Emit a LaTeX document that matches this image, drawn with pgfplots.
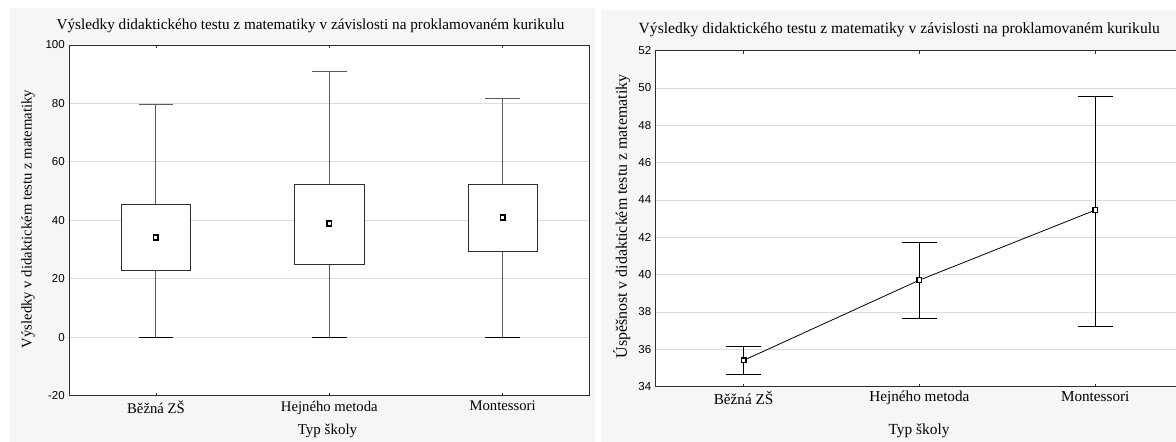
\documentclass[border=0pt]{standalone}
\usepackage{pgfplots}
\pgfplotsset{compat=1.18}
\usepackage{fontspec}
\setmainfont{Liberation Serif}
\newfontfamily\numfont{Liberation Sans}
\definecolor{panel}{HTML}{F6F6F6}
\definecolor{gridc}{HTML}{DDDDDD}
\definecolor{axc}{HTML}{2E2E2E}
\definecolor{whisk}{HTML}{5A5A5A}
\begin{document}
\begin{tikzpicture}
\fill[panel] (10pt,0pt) rectangle (595pt,434pt);
\fill[panel] (601pt,0pt) rectangle (1176pt,432pt);
\begin{axis}[
  at={(69.3pt,46.3pt)}, anchor=south west,
  scale only axis, width=520pt, height=350.7pt,
  xmin=-0.5, xmax=2.5, ymin=-20, ymax=100,
  xtick={0,1,2}, xticklabels={Běžná ZŠ,Hejného metoda,Montessori},
  ytick={-20,0,20,40,60,80,100},
  ymajorgrids, grid style={gridc, line width=0.9pt},
  axis background/.style={fill=white},
  axis line style={axc, line width=0.9pt},
  tick align=inside, major tick length=3pt,
  xtick style={axc, line width=0.7pt}, ytick style={draw=none},
  /pgf/number format/assume math mode=true,
  yticklabel style={font=\numfont\fontsize{11.5}{11.5}\selectfont, xshift=-1pt},
  xticklabel style={font=\fontsize{14.7}{14.7}\selectfont, yshift=-2pt},
  unbounded coords=jump,
]
% whiskers (vertical lines)
\addplot[whisk, line width=1pt] coordinates {
  (0,0) (0,22.7) (nan,nan) (0,45.5) (0,79.5) (nan,nan)
  (1,0) (1,24.9) (nan,nan) (1,52.3) (1,91.0) (nan,nan)
  (2,0) (2,29.4) (nan,nan) (2,52.3) (2,81.8)};
% whisker caps
\addplot[whisk, line width=1.1pt] coordinates {
  (-0.1,79.5) (0.1,79.5) (nan,nan) (0.9,91.0) (1.1,91.0) (nan,nan) (1.9,81.8) (2.1,81.8)};
\addplot[black, line width=1.1pt] coordinates {
  (-0.1,0) (0.1,0) (nan,nan) (0.9,0) (1.1,0) (nan,nan) (1.9,0) (2.1,0)};
% boxes
\addplot[axc, line width=0.9pt, fill=white] coordinates {(-0.2,22.7) (0.2,22.7) (0.2,45.5) (-0.2,45.5) (-0.2,22.7)} -- cycle;
\addplot[axc, line width=0.9pt, fill=white] coordinates {(0.8,24.9) (1.2,24.9) (1.2,52.3) (0.8,52.3) (0.8,24.9)} -- cycle;
\addplot[axc, line width=0.9pt, fill=white] coordinates {(1.8,29.4) (2.2,29.4) (2.2,52.3) (1.8,52.3) (1.8,29.4)} -- cycle;
% means
\addplot[only marks, mark=square*, mark size=2.3pt, mark options={fill=white, draw=black, line width=1.6pt}]
  coordinates {(0,34.1) (1,38.9) (2,41.0)};
\end{axis}
\begin{axis}[
  at={(655.7pt,55.3pt)}, anchor=south west,
  scale only axis, width=527.4pt, height=336pt,
  xmin=-0.5, xmax=2.5, ymin=34, ymax=52,
  xtick={0,1,2}, xticklabels={Běžná ZŠ,Hejného metoda,Montessori},
  ytick={34,36,38,40,42,44,46,48,50,52},
  ymajorgrids, grid style={gridc, line width=0.9pt},
  axis background/.style={fill=white},
  axis line style={axc, line width=0.9pt},
  tick align=inside, major tick length=3pt,
  xtick style={axc, line width=0.7pt}, ytick style={draw=none},
  /pgf/number format/assume math mode=true,
  yticklabel style={font=\numfont\fontsize{11.5}{11.5}\selectfont, xshift=-1pt},
  xticklabel style={font=\fontsize{15.2}{15.2}\selectfont, yshift=-1pt},
]
\addplot[black, line width=0.8pt, mark=square*, mark size=2.3pt,
  mark options={fill=white, draw=black, line width=1.3pt, solid},
  error bars/.cd, y dir=both, y explicit,
  error bar style={black, line width=0.9pt},
  error mark options={rotate=90, black, mark size=17.5pt, line width=1pt}]
  coordinates {(0,35.41) += (0,0.75) -= (0,0.73)
               (1,39.71) += (0,1.99) -= (0,2.08)
               (2,43.46) += (0,6.06) -= (0,6.21)};
\end{axis}
\node[anchor=base, font=\fontsize{15.2}{15.2}\selectfont] at (310.5pt,412pt) {Výsledky didaktického testu z matematiky v závislosti na proklamovaném kurikulu};
\node[anchor=base, font=\fontsize{15.6}{15.6}\selectfont] at (899.3pt,408pt) {Výsledky didaktického testu z matematiky v závislosti na proklamovaném kurikulu};
\node[rotate=90, font=\fontsize{14.7}{14.7}\selectfont] at (28pt,223pt) {Výsledky v didaktickém testu z matematiky};
\node[rotate=90, font=\fontsize{15.9}{15.9}\selectfont] at (621.7pt,225.5pt) {Úspěšnost v didaktickém testu z matematiky};
\node[anchor=base, font=\fontsize{15}{15}\selectfont] at (327.5pt,7pt) {Typ školy};
\node[anchor=base, font=\fontsize{15.4}{15.4}\selectfont] at (919pt,8pt) {Typ školy};
\pgfresetboundingbox
\useasboundingbox (0pt,0pt) rectangle (1176pt,442pt);
\end{tikzpicture}
\end{document}
